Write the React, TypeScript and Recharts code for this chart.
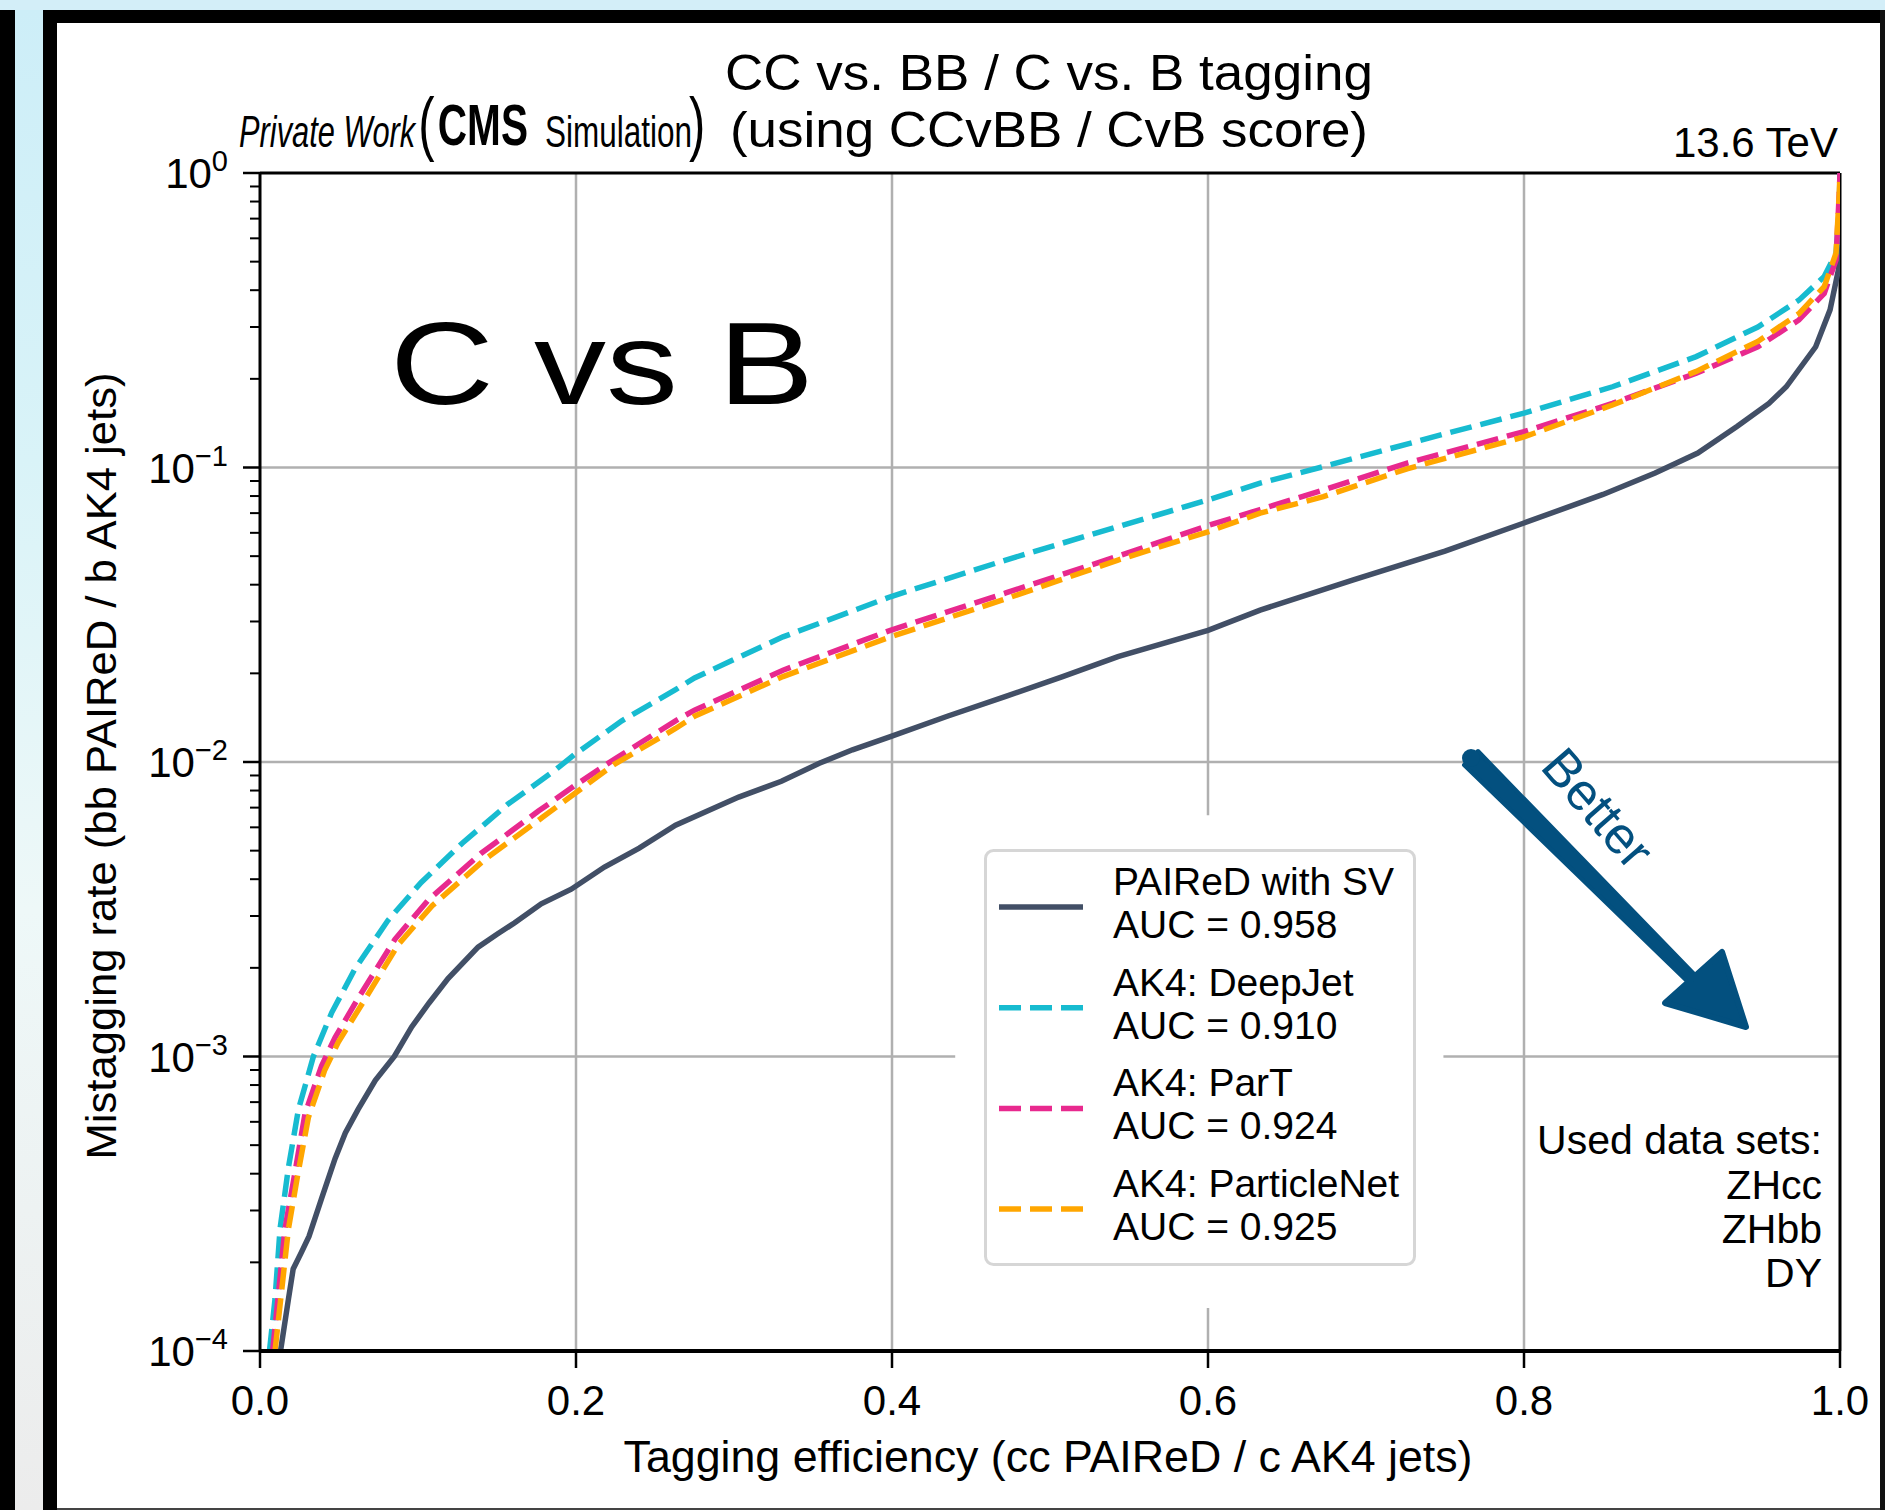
import { CartesianGrid, Legend, Line, LineChart, ReferenceArea, ReferenceLine, XAxis, YAxis } from 'recharts';

// ROC curves: [tagging efficiency, mistagging rate]
const pairedRoc = [
  [0.013, 1e-4], [0.018, 1.5e-4], [0.021, 1.9e-4], [0.026, 2.15e-4], [0.031, 2.45e-4],
  [0.039, 3.3e-4], [0.0475, 4.5e-4], [0.054, 5.5e-4], [0.062, 6.6e-4], [0.073, 8.3e-4],
  [0.085, 1.0e-3], [0.096, 1.26e-3], [0.107, 1.52e-3], [0.119, 1.84e-3], [0.138, 2.35e-3],
  [0.15, 2.6e-3], [0.161, 2.84e-3], [0.178, 3.3e-3], [0.197, 3.7e-3], [0.218, 4.4e-3],
  [0.24, 5.1e-3], [0.263, 6.1e-3], [0.303, 7.6e-3], [0.33, 8.6e-3], [0.354, 9.9e-3],
  [0.375, 1.1e-2], [0.399, 1.22e-2], [0.435, 1.43e-2], [0.472, 1.67e-2], [0.508, 1.95e-2],
  [0.543, 2.28e-2], [0.6, 2.8e-2], [0.633, 3.28e-2], [0.692, 4.15e-2], [0.75, 5.2e-2],
  [0.8, 6.48e-2], [0.85, 8.1e-2], [0.883, 9.58e-2], [0.91, 0.112], [0.935, 0.138],
  [0.955, 0.165], [0.966, 0.188], [0.9846, 0.257], [0.9937, 0.343], [0.999, 0.469],
  [0.9998, 0.7], [1.0, 1.0],
];

const deepJetRoc = [
  [0.006, 1e-4], [0.0095, 1.5e-4], [0.0127, 2.6e-4], [0.018, 4.2e-4], [0.0243, 6.6e-4],
  [0.0338, 1.0e-3], [0.0454, 1.41e-3], [0.06, 1.98e-3], [0.081, 2.9e-3], [0.102, 3.9e-3],
  [0.128, 5.3e-3], [0.157, 7.2e-3], [0.187, 9.4e-3], [0.199, 1.06e-2], [0.229, 1.38e-2],
  [0.263, 1.76e-2], [0.275, 1.93e-2], [0.331, 2.66e-2], [0.399, 3.64e-2], [0.472, 4.85e-2],
  [0.543, 6.3e-2], [0.6, 7.76e-2], [0.633, 8.85e-2], [0.673, 0.1007], [0.752, 0.131],
  [0.8, 0.153], [0.856, 0.188], [0.909, 0.238], [0.948, 0.3], [0.974, 0.37],
  [0.99, 0.445], [0.9975, 0.535], [0.9995, 0.75], [1.0, 1.0],
];

const parTRoc = [
  [0.008, 1e-4], [0.0158, 2.6e-4], [0.022, 4.0e-4], [0.0285, 6.4e-4], [0.039, 9.3e-4],
  [0.0475, 1.16e-3], [0.0622, 1.58e-3], [0.0854, 2.5e-3], [0.1065, 3.4e-3], [0.14, 4.9e-3],
  [0.176, 6.8e-3], [0.199, 8.3e-3], [0.224, 1.02e-2], [0.263, 1.38e-2], [0.275, 1.5e-2],
  [0.331, 2.05e-2], [0.399, 2.8e-2], [0.472, 3.75e-2], [0.543, 5.0e-2], [0.6, 6.35e-2],
  [0.633, 7.2e-2], [0.673, 8.39e-2], [0.726, 0.1035], [0.8, 0.1324], [0.856, 0.165],
  [0.909, 0.209], [0.948, 0.257], [0.974, 0.317], [0.99, 0.39], [0.9975, 0.507],
  [0.9995, 0.85], [1.0, 1.0],
];

const particleNetRoc = [
  [0.0095, 1e-4], [0.018, 2.6e-4], [0.024, 4.0e-4], [0.0306, 6.2e-4], [0.041, 9.0e-4],
  [0.0496, 1.12e-3], [0.065, 1.52e-3], [0.0875, 2.4e-3], [0.109, 3.25e-3], [0.143, 4.7e-3],
  [0.179, 6.5e-3], [0.199, 7.8e-3], [0.224, 9.8e-3], [0.263, 1.3e-2], [0.275, 1.43e-2],
  [0.331, 1.95e-2], [0.399, 2.66e-2], [0.472, 3.58e-2], [0.543, 4.85e-2], [0.6, 6.05e-2],
  [0.633, 7.0e-2], [0.673, 7.96e-2], [0.726, 9.9e-2], [0.8, 0.127], [0.856, 0.163],
  [0.909, 0.212], [0.948, 0.268], [0.974, 0.333], [0.99, 0.411], [0.9975, 0.535],
  [0.9995, 0.85], [1.0, 1.0],
];

const seriesNames = ['PAIReD with SV', 'AK4: DeepJet', 'AK4: ParT', 'AK4: ParticleNet'];
const aucValues = ['0.958', '0.910', '0.924', '0.925'];
const datasets = ['ZHcc', 'ZHbb', 'DY'];

const xTicks = [0, 0.2, 0.4, 0.6, 0.8, 1.0];
const yDecades = [-4, -3, -2, -1, 0];
const minorSteps = [2, 3, 4, 5, 6, 7, 8, 9];

const FONT = '"Liberation Sans", Arial, Helvetica, sans-serif';

const toPoints = (roc: number[][]) => roc.map(([eff, rate]) => ({ eff, rate }));

const series = [
  { name: seriesNames[0], auc: aucValues[0], color: '#424f66', dash: undefined, data: toPoints(pairedRoc) },
  { name: seriesNames[1], auc: aucValues[1], color: '#17bbd0', dash: '22 9', data: toPoints(deepJetRoc) },
  { name: seriesNames[2], auc: aucValues[2], color: '#e8298e', dash: '22 9', data: toPoints(parTRoc) },
  { name: seriesNames[3], auc: aucValues[3], color: '#ffa600', dash: '22 9', data: toPoints(particleNetRoc) },
];

const yTicks: number[] = [];
yDecades.forEach((d) => {
  yTicks.push(Math.pow(10, d));
  if (d < 0) minorSteps.forEach((m) => yTicks.push(m * Math.pow(10, d)));
});

const XTick = ({ x, y, payload }: any) => (
  <g>
    <line x1={x} x2={x} y1={y} y2={y + 17} stroke="#000" strokeWidth={2.5} />
    <text x={x} y={y + 64} textAnchor="middle" fontSize={42} fontFamily={FONT} fill="#000">
      {Number(payload.value).toFixed(1)}
    </text>
  </g>
);

const YTick = ({ x, y, payload }: any) => {
  const lg = Math.log10(payload.value);
  const exp = Math.round(lg);
  const major = Math.abs(lg - exp) < 1e-6;
  return (
    <g>
      <line x1={x - (major ? 17 : 10)} x2={x} y1={y} y2={y} stroke="#000" strokeWidth={major ? 2.5 : 2} />
      {major && (
        <text x={x - 32} y={y + 15} textAnchor="end" fontSize={42} fontFamily={FONT} fill="#000">
          10
          <tspan dy={-17} fontSize={29}>
            {exp === 0 ? '0' : '\u2212' + -exp}
          </tspan>
        </text>
      )}
    </g>
  );
};

const renderLegend = () => (
  <svg width={432} height={417} style={{ display: 'block' }}>
    <rect x={1.5} y={1.5} width={429} height={414} rx={8} fill="#fff" stroke="#d6d6d6" strokeWidth={3} />
    {series.map((s, i) => (
      <g key={s.name}>
        <line
          x1={15}
          x2={99}
          y1={58 + i * 100.7}
          y2={58 + i * 100.7}
          stroke={s.color}
          strokeWidth={5.5}
          strokeDasharray={s.dash}
        />
        <text x={129} y={46 + i * 100.7} fontSize={39} fontFamily={FONT} fill="#000">
          {s.name}
        </text>
        <text x={129} y={89 + i * 100.7} fontSize={39} fontFamily={FONT} fill="#000">
          AUC = {s.auc}
        </text>
      </g>
    ))}
  </svg>
);

const Frame = () => (
  <>
    <div style={{ position: 'absolute', left: 0, top: 0, width: 1885, height: 1510, background: '#d3eef8' }} />
    <div style={{ position: 'absolute', left: 0, top: 10, width: 15, height: 1500, background: '#000' }} />
    <div
      style={{
        position: 'absolute',
        left: 15,
        top: 10,
        width: 28,
        height: 1500,
        background: 'linear-gradient(to bottom, #cdeef8 0%, #d9f3f8 30%, #eef8f8 60%, #ececec 100%)',
      }}
    />
    <div style={{ position: 'absolute', left: 43, top: 10, width: 1842, height: 13, background: '#000' }} />
    <div style={{ position: 'absolute', left: 43, top: 10, width: 14, height: 1500, background: '#000' }} />
    <div style={{ position: 'absolute', left: 1880, top: 10, width: 5, height: 1500, background: '#111' }} />
    <div style={{ position: 'absolute', left: 57, top: 23, width: 1823, height: 1485, background: '#fff' }} />
    <div style={{ position: 'absolute', left: 57, top: 1508, width: 1823, height: 2, background: '#444' }} />
  </>
);

const Annotations = () => (
  <svg
    width={1885}
    height={1510}
    style={{ position: 'absolute', left: 0, top: 0, pointerEvents: 'none' }}
    fontFamily={FONT}
  >
    {/* condensed "Private Work (CMS Simulation)" label as one text run */}
    <text transform="translate(239 147) scale(0.7 1)" fill="#000">
      <tspan x={0} y={0} fontSize={44} fontStyle="italic">
        Private Work
      </tspan>
      <tspan x={256} y={0} fontSize={70}>
        (
      </tspan>
      <tspan x={284} y={-2} fontSize={58} fontWeight="bold">
        CMS
      </tspan>
      <tspan x={437} y={0} fontSize={45}>
        Simulation
      </tspan>
      <tspan x={643} y={0} fontSize={70}>
        )
      </tspan>
    </text>

    <text x={1049} y={90} fontSize={50} textAnchor="middle" textLength={648} lengthAdjust="spacingAndGlyphs">
      CC vs. BB / C vs. B tagging
    </text>
    <text x={1049} y={147} fontSize={50} textAnchor="middle" textLength={638} lengthAdjust="spacingAndGlyphs">
      (using CCvBB / CvB score)
    </text>
    <text x={1838} y={157} fontSize={42} textAnchor="end">
      13.6 TeV
    </text>

    <text x={390} y={404} fontSize={116} textLength={424} lengthAdjust="spacingAndGlyphs">
      C vs B
    </text>

    <g fill="#03507f" stroke="#03507f">
      <polygon points="1464,765 1478,751 1697,977 1690,984" strokeWidth={4} strokeLinejoin="round" />
      <circle cx={1471} cy={758} r={9} stroke="none" />
      <polygon points="1665,1003 1722,952 1746,1027" strokeWidth={6} strokeLinejoin="round" />
    </g>
    <text
      x={1598}
      y={808}
      fontSize={52}
      fill="#03507f"
      textAnchor="middle"
      dominantBaseline="central"
      transform="rotate(49 1598 808)"
    >
      Better
    </text>

    <text x={1822} y={1154} fontSize={41} textAnchor="end">
      Used data sets:
    </text>
    {datasets.map((d, i) => (
      <text key={d} x={1822} y={1199 + i * 44} fontSize={41} textAnchor="end">
        {d}
      </text>
    ))}

    <text x={1048} y={1472} fontSize={44} textAnchor="middle" textLength={849} lengthAdjust="spacingAndGlyphs">
      Tagging efficiency (cc PAIReD / c AK4 jets)
    </text>
    <text
      x={0}
      y={0}
      fontSize={43}
      textAnchor="middle"
      textLength={787}
      lengthAdjust="spacingAndGlyphs"
      transform="translate(116 766) rotate(-90)"
    >
      Mistagging rate (bb PAIReD / b AK4 jets)
    </text>
  </svg>
);

const App = () => {
  return (
    <div style={{ position: 'absolute', left: 0, top: 0, width: 1885, height: 1510, overflow: 'hidden' }}>
      <Frame />
      <div style={{ position: 'absolute', left: 0, top: 0 }}>
        <LineChart
          width={1885}
          height={1510}
          margin={{ top: 173, right: 45, bottom: 59, left: 60 }}
          style={{ fontFamily: FONT }}
        >
          <CartesianGrid
            stroke="#b0b0b0"
            strokeWidth={2.5}
            horizontalValues={[1e-3, 1e-2, 1e-1]}
            verticalValues={[0.2, 0.4, 0.6, 0.8]}
          />
          <ReferenceArea x1={0.44} x2={0.749} y1={1.4e-4} y2={6.6e-3} fill="#fff" fillOpacity={1} stroke="none" />
          <XAxis
            type="number"
            dataKey="eff"
            domain={[0, 1]}
            ticks={xTicks}
            interval={0}
            height={100}
            tickSize={0}
            tickMargin={0}
            tickLine={false}
            tick={<XTick />}
            axisLine={{ stroke: '#000', strokeWidth: 4 }}
            allowDataOverflow
          />
          <YAxis
            type="number"
            dataKey="rate"
            scale="log"
            domain={[1e-4, 1]}
            ticks={yTicks}
            interval={0}
            width={200}
            tickSize={0}
            tickMargin={0}
            tickLine={false}
            tick={<YTick />}
            axisLine={{ stroke: '#000', strokeWidth: 3 }}
            allowDataOverflow
          />
          <ReferenceLine y={1} stroke="#000" strokeWidth={3} />
          <ReferenceLine x={1} stroke="#000" strokeWidth={3} />
          {series.map((s) => (
            <Line
              key={s.name}
              data={s.data}
              dataKey="rate"
              name={s.name}
              type="linear"
              stroke={s.color}
              strokeWidth={5.5}
              strokeDasharray={s.dash}
              dot={false}
              isAnimationActive={false}
            />
          ))}
          <Legend
            layout="vertical"
            align="center"
            verticalAlign="middle"
            content={renderLegend}
            wrapperStyle={{ position: 'absolute', left: 984, top: 849, width: 432, height: 417 }}
          />
        </LineChart>
      </div>
      <Annotations />
    </div>
  );
};

export default App;
